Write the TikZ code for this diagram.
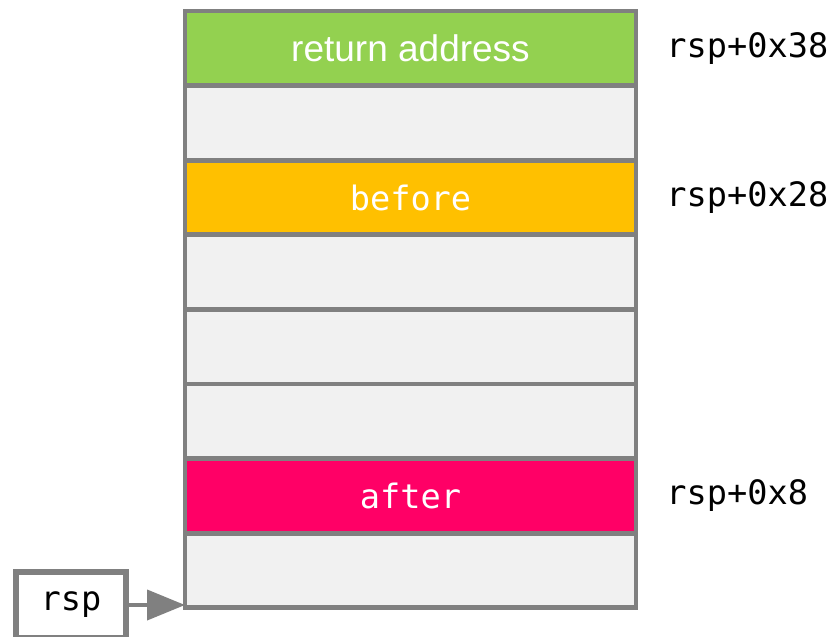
\documentclass[tikz,border=0pt]{standalone}
\usepackage{fontspec}
\setsansfont{Liberation Sans}
\setmonofont{DejaVu Sans Mono}
\usepackage{tikz}
\usetikzlibrary{
    positioning,
    arrows.meta
}
\definecolor{slotGrey}{RGB}{241, 241, 241}
\definecolor{edgeGrey}{RGB}{128, 128, 128}
\definecolor{retGreen}{RGB}{147, 209, 80}
\definecolor{beforeGold}{RGB}{255, 192, 0}
\definecolor{afterPink}{RGB}{255, 0, 102}

\begin{document}
\begin{tikzpicture}[x=0.5pt, y=-0.5pt, >=Triangle,
        cell/.style={draw=edgeGrey, line width=2.4pt, fill=slotGrey, outer sep=0pt,
            minimum width=225.5pt, minimum height=37.3pt, text=white,
            font=\ttfamily\fontsize{16.8}{20}\selectfont},
        addr/.style={inner sep=0pt, font=\ttfamily\fontsize{16.8}{20}\selectfont},
        ptr/.style={->, draw=edgeGrey, line width=2pt, >={Triangle[length=19pt, width=15pt]}}]
        \useasboundingbox (0,0) rectangle (833,636);
        \fill[white] (0,0) rectangle (833,636);

        % Stack slots, top to bottom
        \node[cell, fill=retGreen, font=\sffamily\fontsize{18.5}{22}\selectfont] (ret) at (410.5,48.3) {return address};
        \node[cell, below=0pt of ret] (slotA) {};
        \node[cell, fill=beforeGold, below=0pt of slotA] (before) {before};
        \node[cell, below=0pt of before] (slotB) {};
        \node[cell, below=0pt of slotB] (slotC) {};
        \node[cell, below=0pt of slotC] (slotD) {};
        \node[cell, fill=afterPink, below=0pt of slotD] (after) {after};
        \node[cell, below=0pt of after] (slotE) {};

        % Offsets from rsp
        \node[addr, right=15pt of ret] (offRet) {rsp+0x38};
        \node[addr, right=15pt of before] (offBefore) {rsp+0x28};
        \node[addr, right=15pt of after] (offAfter) {rsp+0x8};

        % Stack pointer
        \node[draw=edgeGrey, line width=3pt, fill=white, minimum width=55pt, minimum height=33pt,
            font=\ttfamily\fontsize{16.8}{20}\selectfont] (rspbox) at (71,605) {rsp};
        \draw[ptr] (rspbox.east) -- (rspbox.east -| slotE.west);
    \end{tikzpicture}
\end{document}
